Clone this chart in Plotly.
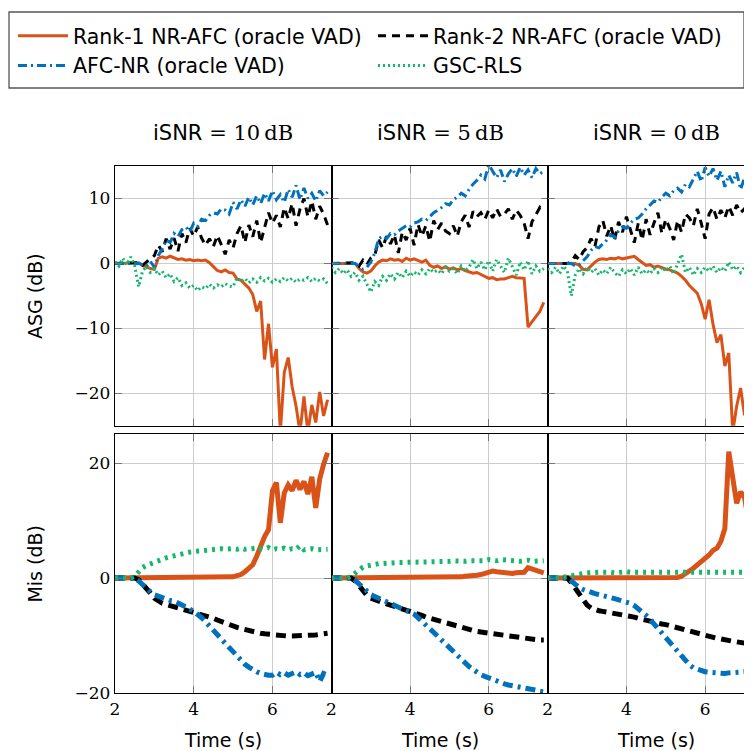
import plotly.graph_objects as go

# ---------------- data ----------------
time_s = [2.0, 2.1, 2.2, 2.3, 2.4, 2.5, 2.6, 2.7, 2.8, 2.9,
          3.0, 3.1, 3.2, 3.3, 3.4, 3.5, 3.6, 3.7, 3.8, 3.9,
          4.0, 4.1, 4.2, 4.3, 4.4, 4.5, 4.6, 4.7, 4.8, 4.9,
          5.0, 5.1, 5.2, 5.3, 5.4, 5.5, 5.6, 5.7, 5.8, 5.9,
          6.0, 6.1, 6.2, 6.3, 6.4, 6.5, 6.6, 6.7, 6.8, 6.9,
          7.0, 7.1, 7.2, 7.3, 7.4]

series_names = ["Rank-1 NR-AFC (oracle VAD)", "Rank-2 NR-AFC (oracle VAD)",
                "AFC-NR (oracle VAD)", "GSC-RLS"]
isnr_labels = ["10", "5", "0"]
x_ticks = [2, 4, 6]
asg_ticks = [-20, -10, 0, 10]
mis_ticks = [-20, 0, 20]

# ASG (dB), iSNR = 10 dB
r1_asg_10 = [0, 0, 0, 0, 0, 0, 0.1, -0.3, -0.6, -0.8,
             -0.9, 0.8, 1.0, 0.8, 1.1, 0.9, 0.6, 0.7, 0.5, 0.6,
             0.4, 0.5, 0.4, 0.5, 0.1, -0.5, -1.1, -1.3, -1.0, -1.4,
             -1.5, -2.4, -2.6, -3.2, -3.8, -4.8, -7.4, -5.8, -14.8, -9.3,
             -16.0, -13.2, -26.0, -16.8, -14.5, -19.0, -22.0, -26.0, -20.5, -26.0,
             -21.8, -24.5, -19.8, -23.5, -21.0]
r2_asg_10 = [0, 0, 0, 0, 0, 0, 0.1, -0.3, 0.2, 0.6,
             1.2, 2.8, 1.8, 3.8, 2.2, 3.9, 1.9, 4.6, 3.2, 5.4,
             4.2, 5.6, 3.9, 2.8, 3.8, 2.6, 4.3, 2.9, 1.4, 3.6,
             2.4, 4.6, 5.8, 3.2, 5.9, 4.1, 6.6, 3.2, 5.4, 7.8,
             6.2, 7.4, 5.6, 8.6, 6.9, 9.2, 5.8, 8.4, 10.0, 7.2,
             9.6, 6.8, 8.8, 7.6, 5.9]
afc_asg_10 = [0, 0, 0, 0, 0, 0, 0, -0.2, -0.4, 0.3,
              -0.6, 1.2, 2.2, 3.6, 3.2, 4.6, 4.1, 5.2, 5.6, 4.9,
              6.2, 5.7, 6.8, 6.6, 7.4, 7.8, 7.6, 8.4, 8.2, 7.6,
              9.4, 8.4, 9.8, 8.8, 10.2, 9.0, 10.4, 9.2, 10.8, 9.6,
              11.2, 9.8, 10.6, 9.4, 11.4, 10.2, 12.0, 9.8, 11.6, 10.0,
              10.8, 9.6, 11.2, 10.4, 11.0]
gsc_asg_10 = [0.3, -0.4, 0.8, -0.2, 1.0, -0.3, -3.6, -1.2, -0.5, -1.4,
              -0.8, -1.8, -1.2, -2.2, -1.6, -2.8, -2.2, -3.4, -3.0, -3.8,
              -3.4, -4.2, -3.6, -3.9, -3.2, -3.8, -3.3, -3.6, -3.1, -3.5,
              -3.6, -2.2, -2.8, -2.3, -3.0, -2.4, -2.9, -2.2, -2.7, -2.3,
              -2.9, -2.4, -2.8, -2.2, -2.7, -2.3, -2.9, -2.4, -2.6, -2.2,
              -2.8, -2.3, -2.7, -2.4, -3.1]

# ASG (dB), iSNR = 5 dB
r1_asg_5 = [0, 0, 0, 0, 0, 0, 0, -0.8, -1.3, -1.5,
            -1.2, -0.4, 0.2, 0.5, 0.4, 0.7, 0.5, 0.6, 0.3, 0.8,
            0.5, 0.7, 0.4, 0.2, 0.5, -0.3, -0.6, -0.4, -0.8, -0.5,
            -0.9, -0.7, -1.0, -0.8, -1.1, -1.3, -1.5, -1.4, -1.7, -2.0,
            -2.3, -2.2, -2.5, -2.4, -2.4, -2.2, -2.0, -2.2, -2.3, -2.3,
            -9.8, -8.9, -8.2, -7.4, -6.0]
r2_asg_5 = [0, 0, 0, 0, 0, 0, 0.1, -0.4, 0.5, -0.2,
            0.8, 1.2, 3.6, 2.4, 4.2, 3.0, 4.4, 1.6, 4.8, 3.6,
            5.4, 2.8, 6.0, 4.2, 5.8, 3.4, 6.6, 5.2, 6.2, 5.0,
            4.6, 5.8, 4.2, 6.4, 7.4, 5.6, 8.0, 7.2, 7.8, 6.8,
            8.2, 7.0, 8.4, 7.2, 7.6, 8.4, 6.8, 8.2, 7.4, 6.2,
            3.8, 6.4, 7.4, 8.6, 7.8]
afc_asg_5 = [0, 0, 0, 0, 0, 0, 0, -0.5, -0.9, -0.6,
             0.2, 1.6, 3.8, 4.2, 3.8, 4.6, 4.4, 5.0, 5.4, 5.8,
             5.6, 6.2, 6.4, 6.8, 6.6, 7.2, 7.8, 8.2, 8.6, 9.2,
             9.0, 9.8, 10.2, 10.8, 10.4, 11.4, 12.2, 12.8, 13.6, 13.0,
             15.2, 14.2, 13.2, 14.4, 12.6, 13.8, 14.6, 13.4, 14.8, 13.6,
             14.4, 13.2, 14.6, 13.8, 14.2]
gsc_asg_5 = [-0.6, -1.4, -0.8, -1.6, -1.0, -2.0, -1.4, -2.6, -2.0, -3.2,
             -4.4, -2.8, -3.4, -2.0, -2.6, -1.6, -2.4, -1.4, -2.2, -1.2,
             -2.0, -1.3, -1.8, -1.0, -1.6, -0.8, -1.4, -1.0, -1.6, -0.6,
             -1.2, -0.8, -1.6, -0.4, -1.2, -0.6, 0.6, -0.8, 0.2, -1.0,
             0.4, -1.2, 0.6, -0.4, -1.4, 0.8, -0.6, -1.8, 0.2, -1.0,
             0.4, -1.6, -0.4, -1.2, -0.8]

# ASG (dB), iSNR = 0 dB
r1_asg_0 = [0, 0, 0, 0, 0, 0, 0, 0, -0.3, -0.9,
            -1.0, -0.4, 0.2, 0.6, 0.7, 0.6, 0.8, 0.7, 0.9, 0.7,
            0.8, 0.9, 1.1, 0.6, 0.2, -0.3, -0.2, -0.6, -0.4, -0.7,
            -0.9, -1.0, -1.3, -1.5, -2.0, -2.6, -3.4, -4.0, -4.6, -6.2,
            -8.6, -5.6, -9.4, -12.2, -11.0, -15.8, -13.8, -26.0, -22.0, -19.2,
            -23.4, -19.8, -25.5, -21.0, -23.0]
r2_asg_0 = [0, 0, 0, 0, 0, 0, 0.2, 1.2, 0.6, 1.8,
            2.4, 3.8, 2.6, 5.6, 6.6, 4.2, 5.8, 3.6, 6.4, 4.8,
            7.2, 5.2, 3.2, 6.2, 3.6, 6.8, 4.4, 6.2, 7.8, 4.6,
            6.8, 5.4, 3.6, 6.6, 4.8, 7.6, 7.0, 5.8, 8.4, 6.2,
            3.8, 7.6, 8.6, 6.8, 8.2, 7.0, 8.8, 7.4, 9.0, 7.8,
            8.4, 9.4, 8.6, 8.2, 8.8]
afc_asg_0 = [0, 0, 0, 0, 0, 0, 0, -0.4, -0.2, 0.4,
             1.0, 2.0, 2.6, 2.4, 3.0, 3.6, 4.4, 4.0, 5.0, 5.6,
             5.4, 6.2, 6.8, 7.0, 7.6, 8.4, 9.0, 9.6, 9.4, 10.2,
             10.8, 10.4, 11.2, 11.6, 11.0, 12.2, 11.8, 13.0, 14.2, 12.6,
             14.8, 13.4, 14.6, 12.8, 14.2, 11.8, 13.6, 12.4, 14.0, 11.4,
             13.2, 12.0, 13.8, 12.6, 13.4]
gsc_asg_0 = [-0.8, -1.4, -0.6, -1.6, -0.4, -1.2, -5.0, -1.8, -0.8, -1.6,
             -0.6, -1.4, -0.8, -1.8, -1.0, -1.6, -0.6, -1.4, -2.0, -1.0,
             -1.6, -0.8, -1.8, -0.6, -1.6, -1.0, -1.6, -0.8, -1.4, -0.6,
             -1.2, -0.4, -1.6, -0.2, 1.4, -1.4, -0.6, -1.8, -0.8, -1.4,
             -0.6, -1.2, -0.4, -1.4, -0.6, -1.2, 0.2, -1.0, -0.4, -1.4,
             -0.6, -1.2, -0.8, -1.0, -0.6]

# Mis (dB), iSNR = 10 dB
r1_mis_10 = [0, 0, 0, 0, 0, 0, 0, 0, 0, 0,
             0, 0, 0, 0, 0, 0, 0, 0, 0, 0,
             0, 0, 0, 0, 0, 0, 0, 0, 0, 0.1,
             0.2, 0.4, 0.6, 1.1, 1.6, 2.3, 3.8, 5.6, 7.2, 8.4,
             15.2, 16.6, 9.6, 14.8, 16.2, 15.2, 17.0, 15.4, 16.8, 14.6,
             17.6, 12.2, 17.2, 19.8, 21.8]
r2_mis_10 = [0, 0, 0, 0, 0, 0, -0.3, -1.0, -1.7, -2.6,
             -3.5, -4.0, -4.4, -4.6, -4.8, -4.9, -5.1, -5.3, -5.5, -5.7,
             -5.8, -6.1, -6.3, -6.6, -6.8, -7.0, -7.3, -7.6, -7.9, -8.2,
             -8.4, -8.6, -8.8, -9.0, -9.2, -9.3, -9.5, -9.6, -9.7, -9.8,
             -9.9, -10.0, -10.0, -10.1, -10.1, -10.1, -10.1, -10.0, -10.0, -10.0,
             -9.9, -9.9, -9.8, -9.7, -9.6]
afc_mis_10 = [0, 0, 0, 0, 0, 0, -0.5, -1.2, -1.9, -2.4,
              -2.9, -3.2, -3.5, -3.7, -3.9, -4.0, -4.3, -4.7, -5.1, -5.4,
              -5.8, -6.3, -6.9, -7.6, -8.4, -9.1, -9.9, -10.7, -11.4, -12.1,
              -12.8, -13.6, -14.3, -15.0, -15.5, -16.0, -16.3, -16.6, -16.8, -16.9,
              -16.9, -16.4, -16.8, -16.5, -16.9, -16.6, -16.3, -16.8, -16.5, -17.0,
              -16.7, -16.4, -18.0, -16.6, -16.9]
gsc_mis_10 = [0, 0, 0, 0, 0, 0.3, 1.2, 1.8, 2.2, 2.5,
              2.8, 3.1, 3.3, 3.5, 3.7, 3.9, 4.1, 4.2, 4.4, 4.5,
              4.6, 4.7, 4.8, 4.8, 4.9, 5.0, 5.0, 5.1, 5.0, 5.1,
              5.1, 5.0, 5.2, 5.0, 5.1, 5.0, 5.2, 5.1, 5.0, 5.3,
              4.9, 5.1, 5.0, 5.2, 4.9, 5.1, 5.0, 5.6, 4.9, 5.0,
              5.1, 4.9, 5.0, 5.1, 5.0]

# Mis (dB), iSNR = 5 dB
r1_mis_5 = [0, 0, 0, 0, 0, 0, 0, 0, 0, 0,
            0, 0, 0, 0, 0, 0, 0, 0, 0, 0,
            0, 0, 0, 0, 0, 0, 0, 0, 0, 0,
            0, 0.1, 0.2, 0.2, 0.3, 0.3, 0.4, 0.5, 0.6, 0.8,
            1.0, 1.2, 1.1, 1.0, 0.9, 0.8, 0.8, 0.9, 0.9, 1.0,
            1.8, 1.5, 1.3, 1.1, 0.9]
r2_mis_5 = [0, 0, 0, 0, 0, 0, -0.5, -1.4, -2.3, -3.0,
            -3.5, -3.8, -4.1, -4.3, -4.5, -4.7, -4.9, -5.2, -5.4, -5.6,
            -5.8, -6.1, -6.3, -6.5, -6.8, -7.0, -7.2, -7.4, -7.7, -7.9,
            -8.1, -8.3, -8.5, -8.7, -8.8, -9.0, -9.1, -9.3, -9.4, -9.5,
            -9.6, -9.7, -9.8, -10.0, -10.1, -10.2, -10.3, -10.4, -10.5, -10.5,
            -10.6, -10.7, -10.7, -10.8, -10.8]
afc_mis_5 = [0, 0, 0, 0, 0, 0, -0.4, -1.1, -1.7, -2.3,
             -2.9, -3.2, -3.5, -3.9, -4.2, -4.4, -4.7, -5.0, -5.3, -5.6,
             -5.8, -6.3, -6.9, -7.5, -8.1, -8.7, -9.4, -10.1, -10.8, -11.5,
             -12.2, -12.9, -13.6, -14.2, -14.8, -15.4, -15.9, -16.4, -16.8, -17.1,
             -17.4, -17.7, -17.9, -18.2, -18.4, -18.6, -18.7, -18.9, -19.0, -19.1,
             -19.2, -19.4, -19.5, -19.7, -19.8]
gsc_mis_5 = [0, 0, 0, 0, 0, 0.3, 0.9, 1.5, 1.9, 2.1,
             2.3, 2.4, 2.5, 2.5, 2.6, 2.6, 2.6, 2.7, 2.7, 2.7,
             2.7, 2.8, 2.7, 2.8, 2.8, 2.8, 2.9, 2.8, 2.9, 2.9,
             2.9, 3.0, 2.9, 3.0, 2.9, 3.0, 3.0, 2.9, 3.1, 3.0,
             3.2, 3.1, 3.0, 3.2, 3.1, 3.0, 3.1, 3.0, 2.9, 3.0,
             3.1, 2.9, 3.0, 2.9, 3.0]

# Mis (dB), iSNR = 0 dB
r1_mis_0 = [0, 0, 0, 0, 0, 0, 0, 0, 0, 0,
            0, 0, 0, 0, 0, 0, 0, 0, 0, 0,
            0, 0, 0, 0, 0, 0, 0, 0, 0, 0,
            0, 0, 0, 0.1, 0.3, 0.7, 1.2, 1.7, 2.3, 2.8,
            3.4, 4.0, 4.8, 5.2, 6.4, 8.6, 22.0, 17.0, 13.0, 15.0,
            14.0, 10.0, 14.5, 13.0, 14.0]
r2_mis_0 = [0, 0, 0, 0, 0, 0, -0.8, -1.8, -3.0, -4.0,
            -4.7, -5.2, -5.5, -5.7, -5.8, -5.9, -6.0, -6.1, -6.2, -6.3,
            -6.4, -6.6, -6.8, -7.0, -7.2, -7.3, -7.5, -7.7, -7.9, -8.0,
            -8.1, -8.3, -8.5, -8.7, -8.8, -9.0, -9.2, -9.4, -9.6, -9.7,
            -9.9, -10.1, -10.3, -10.5, -10.6, -10.8, -10.9, -11.0, -11.1, -11.2,
            -11.3, -11.4, -11.6, -11.7, -11.8]
afc_mis_0 = [0, 0, 0, 0, 0, 0, -0.5, -1.2, -1.7, -2.0,
             -2.3, -2.5, -2.7, -2.9, -3.0, -3.2, -3.4, -3.6, -3.8, -3.9,
             -4.1, -4.4, -4.8, -5.3, -5.8, -6.5, -7.2, -8.0, -8.7, -9.6,
             -10.4, -11.3, -12.2, -13.0, -13.8, -14.5, -15.1, -15.6, -15.9, -16.1,
             -16.3, -16.4, -16.5, -16.6, -16.6, -16.6, -16.5, -16.4, -16.4, -16.3,
             -16.3, -16.4, -16.5, -16.5, -16.6]
gsc_mis_0 = [0, 0, 0, 0, 0, 0.2, 0.4, 0.6, 0.7, 0.8,
             0.9, 1.0, 0.9, 1.0, 1.0, 1.1, 1.0, 0.9, 1.0, 1.0,
             1.1, 1.0, 1.0, 0.9, 1.0, 1.1, 1.0, 1.0, 0.9, 1.0,
             1.0, 1.1, 1.0, 0.9, 1.0, 1.0, 1.1, 1.0, 1.0, 0.9,
             1.0, 1.1, 1.0, 1.0, 0.9, 1.0, 1.0, 1.1, 1.0, 1.0,
             0.9, 1.0, 1.0, 1.1, 1.0]

asg_data = [[r1_asg_10, r2_asg_10, afc_asg_10, gsc_asg_10],
            [r1_asg_5, r2_asg_5, afc_asg_5, gsc_asg_5],
            [r1_asg_0, r2_asg_0, afc_asg_0, gsc_asg_0]]
mis_data = [[r1_mis_10, r2_mis_10, afc_mis_10, gsc_mis_10],
            [r1_mis_5, r2_mis_5, afc_mis_5, gsc_mis_5],
            [r1_mis_0, r2_mis_0, afc_mis_0, gsc_mis_0]]

# ---------------- styling ----------------
# The page has an 8 px body margin, so the figure is drawn from (8, 8).
OFF = 8
W, H = 752 - OFF, 751 - OFF
PLOT_L, PLOT_R, PLOT_T, PLOT_B = 115, 752, 166, 693   # page pixels
ML, MR, MT, MB = PLOT_L - OFF, 0, PLOT_T - OFF, (H + OFF) - PLOT_B
PW, PH = PLOT_R - PLOT_L, PLOT_B - PLOT_T

colors = ["#D95319", "#000000", "#0072BD", "#12B96C"]
dashes_top = ["solid", "8px,6px", "9px,4px,2px,4px", "2px,3px"]
dashes_bot = ["solid", "10px,6px", "10px,5px,3px,5px", "3px,5px"]

SANS = "DejaVu Sans"
SERIF = "DejaVu Serif"


def px_x(p):
    return (p - PLOT_L) / PW


def px_y(p):
    return (PLOT_B - p) / PH


col_dom = [[0, px_x(331.5)], [px_x(331.5), px_x(547.7)], [px_x(547.7), 1.0]]
x_ranges = [[2, 7.5], [2, 7.5], [2, 2 + (752 - 547.7) / (216.5 / 5.5)]]
row_dom = [[px_y(425.7), 1.0], [0.0, px_y(434.3)]]
y_ranges = [[-25, 15], [-20, 25]]
y_ticks = [asg_ticks, mis_ticks]

fig = go.Figure()
layout = {}
for r in range(2):
    data = asg_data if r == 0 else mis_data
    lw = 3.0 if r == 0 else 5.0
    dashes = dashes_top if r == 0 else dashes_bot
    for c in range(3):
        k = r * 3 + c + 1
        xa = "x" if k == 1 else f"x{k}"
        ya = "y" if k == 1 else f"y{k}"
        for s in range(4):
            fig.add_trace(go.Scatter(
                x=time_s, y=data[c][s], xaxis=xa, yaxis=ya, mode="lines",
                name=series_names[s], legendgroup=series_names[s],
                showlegend=(k == 1),
                line=dict(color=colors[s], width=lw, dash=dashes[s]),
                hoverinfo="skip"))
        common = dict(showline=True, linecolor="black", linewidth=1.3,
                      showgrid=True, gridcolor="#cccccc", gridwidth=1.3,
                      zeroline=False, ticks="inside", ticklen=7,
                      tickcolor="#777777", tickwidth=1.3,
                      tickfont=dict(family=SERIF, size=17, color="black"))
        layout["xaxis" if k == 1 else f"xaxis{k}"] = dict(
            common, domain=col_dom[c], range=x_ranges[c], anchor=ya,
            tickvals=x_ticks, showticklabels=(r == 1), mirror="allticks")
        layout["yaxis" if k == 1 else f"yaxis{k}"] = dict(
            common, domain=row_dom[r], range=y_ranges[r], anchor=xa,
            tickvals=y_ticks[r], showticklabels=(c == 0),
            mirror=("allticks" if c < 2 else False))

annotations = []
title_centers = [223, 440, 656]
for c in range(3):
    annotations.append(dict(
        xref="paper", yref="paper", x=px_x(title_centers[c]), y=px_y(133),
        xanchor="center", yanchor="middle", showarrow=False,
        text=f'<span style="font-family:{SANS}">iSNR</span> = {isnr_labels[c]}\u2009dB',
        font=dict(family=SERIF, size=21, color="black")))
    annotations.append(dict(
        xref="paper", yref="paper", x=px_x(title_centers[c]), y=px_y(740),
        xanchor="center", yanchor="middle", showarrow=False,
        text="Time (s)", font=dict(family=SANS, size=19, color="black")))
for txt, yc in [("ASG (dB)", 296), ("Mis (dB)", 563.6)]:
    annotations.append(dict(
        xref="paper", yref="paper", x=px_x(35), y=px_y(yc),
        xanchor="center", yanchor="middle", showarrow=False, textangle=-90,
        text=txt, font=dict(family=SANS, size=19, color="black")))

legend_box = dict(type="rect", xref="paper", yref="paper",
                  x0=px_x(9), x1=px_x(744), y0=px_y(88), y1=px_y(12),
                  line=dict(color="#555555", width=1.3), fillcolor="rgba(0,0,0,0)",
                  layer="above")

fig.update_layout(
    width=W, height=H,
    margin=dict(l=ML, r=MR, t=MT, b=MB, pad=0),
    paper_bgcolor="white", plot_bgcolor="white",
    annotations=annotations, shapes=[legend_box],
    legend=dict(x=px_x(13), y=px_y(16), xanchor="left", yanchor="top",
                orientation="h", borderwidth=0, bgcolor="rgba(0,0,0,0)",
                font=dict(family=SANS, size=20.5, color="black"),
                itemwidth=50, entrywidth=295, entrywidthmode="pixels",
                traceorder="normal", tracegroupgap=0),
    **layout)

fig.write_html("out.html")
